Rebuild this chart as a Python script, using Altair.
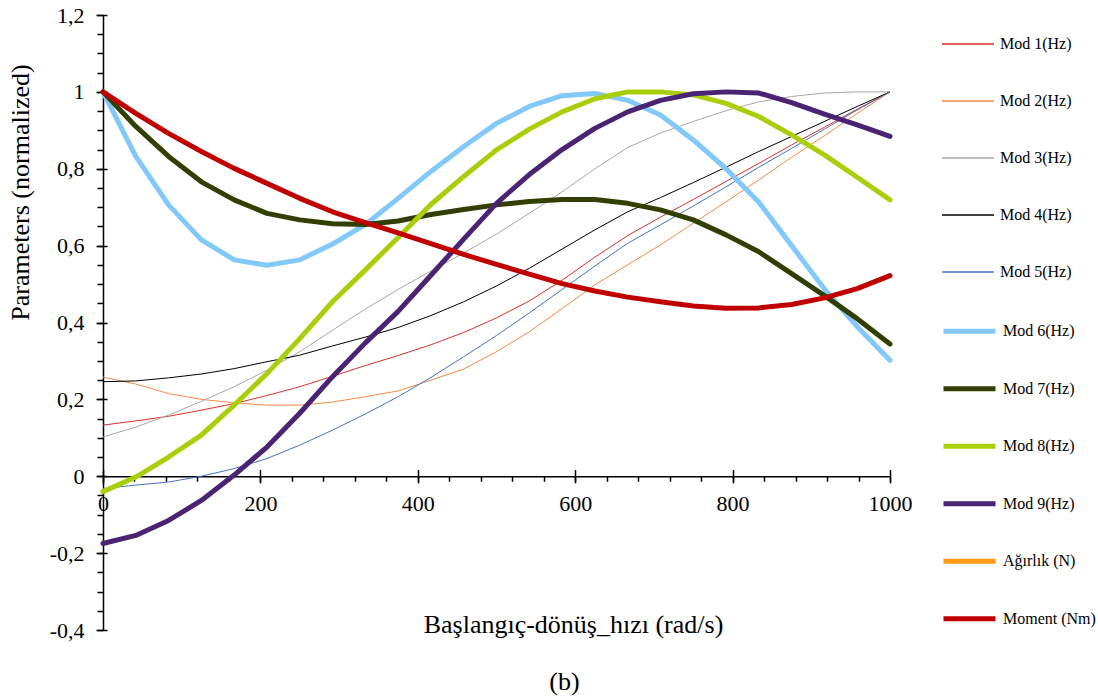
import altair as alt
import pandas as pd

# ---------------- data ----------------
speed = [0, 41.67, 83.33, 125, 166.67, 208.33, 250, 291.67, 333.33, 375, 416.67, 458.33,
         500, 541.67, 583.33, 625, 666.67, 708.33, 750, 791.67, 833.33, 875, 916.67, 958.33, 1000]

mod1 = [0.133, 0.144, 0.156, 0.172, 0.189, 0.210, 0.233, 0.260, 0.288, 0.314, 0.342, 0.374,
        0.412, 0.456, 0.510, 0.570, 0.626, 0.674, 0.720, 0.767, 0.814, 0.862, 0.908, 0.955, 1.0]
mod2 = [0.258, 0.240, 0.215, 0.200, 0.191, 0.185, 0.185, 0.193, 0.207, 0.222, 0.250, 0.279,
        0.324, 0.376, 0.436, 0.498, 0.550, 0.602, 0.658, 0.714, 0.771, 0.830, 0.886, 0.944, 1.0]
mod3 = [0.102, 0.128, 0.159, 0.195, 0.233, 0.276, 0.324, 0.380, 0.435, 0.486, 0.534, 0.581,
        0.630, 0.684, 0.740, 0.800, 0.855, 0.893, 0.923, 0.951, 0.974, 0.988, 0.997, 1.0, 1.0]
mod4 = [0.246, 0.248, 0.256, 0.266, 0.280, 0.298, 0.315, 0.339, 0.362, 0.387, 0.418, 0.454,
        0.495, 0.541, 0.591, 0.641, 0.688, 0.725, 0.764, 0.804, 0.845, 0.884, 0.923, 0.962, 1.0]
mod5 = [-0.032, -0.023, -0.015, 0.0, 0.020, 0.046, 0.081, 0.120, 0.162, 0.207, 0.257, 0.311,
        0.366, 0.425, 0.486, 0.547, 0.606, 0.654, 0.703, 0.753, 0.804, 0.853, 0.903, 0.953, 1.0]
mod6 = [1.0, 0.832, 0.706, 0.615, 0.563, 0.549, 0.563, 0.604, 0.655, 0.723, 0.793, 0.858,
        0.918, 0.962, 0.990, 0.996, 0.978, 0.940, 0.875, 0.800, 0.713, 0.600, 0.487, 0.389, 0.302]
mod7 = [1.0, 0.910, 0.832, 0.766, 0.719, 0.684, 0.667, 0.657, 0.655, 0.664, 0.681, 0.694,
        0.706, 0.715, 0.720, 0.720, 0.710, 0.693, 0.667, 0.628, 0.584, 0.527, 0.470, 0.410, 0.344]
mod8 = [-0.040, -0.002, 0.050, 0.107, 0.185, 0.267, 0.358, 0.454, 0.537, 0.621, 0.707, 0.780,
        0.849, 0.903, 0.948, 0.982, 1.0, 1.0, 0.992, 0.970, 0.936, 0.888, 0.836, 0.778, 0.719]
mod9 = [-0.175, -0.154, -0.115, -0.063, 0.003, 0.076, 0.164, 0.259, 0.347, 0.429, 0.523, 0.617,
        0.710, 0.785, 0.850, 0.905, 0.948, 0.978, 0.995, 1.0, 0.997, 0.972, 0.942, 0.914, 0.884]
moment = [1.0, 0.944, 0.892, 0.845, 0.801, 0.762, 0.723, 0.688, 0.660, 0.633, 0.605, 0.577,
          0.551, 0.526, 0.501, 0.482, 0.466, 0.454, 0.443, 0.437, 0.438, 0.447, 0.464, 0.488, 0.522]

thin_names = ["Mod 1(Hz)", "Mod 2(Hz)", "Mod 3(Hz)", "Mod 4(Hz)", "Mod 5(Hz)"]
thin_values = [mod1, mod2, mod3, mod4, mod5]
thin_colors = ["#D8322B", "#F58A45", "#A8A8A8", "#000000", "#4472C4"]

thick_names = ["Mod 6(Hz)", "Mod 7(Hz)", "Mod 8(Hz)", "Mod 9(Hz)", "Ağırlık (N)", "Moment (Nm)"]
thick_values = [mod6, mod7, mod8, mod9, None, moment]
thick_colors = ["#82C8FA", "#323F02", "#A9CF0A", "#4A2372", "#FF9916", "#C00000"]

x_minor_ticks = [0, 40, 80, 120, 160, 200, 240, 280, 320, 360, 400, 440, 480, 520, 560, 600,
                 640, 680, 720, 760, 800, 840, 880, 920, 960, 1000]
x_major_ticks = [0, 200, 400, 600, 800, 1000]
y_minor_ticks = [-0.4, -0.35, -0.3, -0.25, -0.2, -0.15, -0.1, -0.05, 0, 0.05, 0.1, 0.15, 0.2,
                 0.25, 0.3, 0.35, 0.4, 0.45, 0.5, 0.55, 0.6, 0.65, 0.7, 0.75, 0.8, 0.85, 0.9,
                 0.95, 1.0, 1.05, 1.1, 1.15, 1.2]
y_major_ticks = [-0.4, -0.2, 0, 0.2, 0.4, 0.6, 0.8, 1.0, 1.2]


def table(names, values):
    rows = []
    for name, vals in zip(names, values):
        if vals is None:
            continue
        for x, v in zip(speed, vals):
            rows.append({"speed": x, "value": v, "series": name})
    return pd.DataFrame(rows)


df_thin = table(thin_names, thin_values)
df_thick = table(thick_names, thick_values)

FONT = "Liberation Serif"
W, H = 787, 615
Y0_OFFSET = -H * 0.4 / 1.6  # y=0 sits this far above the bottom of the plot

x_scale = alt.Scale(domain=[0, 1000], nice=False, zero=False)
y_scale = alt.Scale(domain=[-0.4, 1.2], nice=False, zero=False)


def make_legend(y, width, pad):
    return alt.Legend(
        orient="none", legendX=838, legendY=y, direction="vertical",
        symbolType="stroke", symbolSize=2704, symbolStrokeWidth=width,
        labelFont=FONT, labelFontSize=16, labelColor="black", labelOffset=5,
        rowPadding=pad, padding=0, title=None, labelLimit=200,
    )


thin = alt.Chart(df_thin).mark_line(strokeWidth=1, strokeJoin="round").encode(
    x=alt.X("speed:Q", scale=x_scale, axis=alt.Axis(
        orient="bottom", values=x_minor_ticks, offset=Y0_OFFSET, tickSize=5, tickWidth=1.5,
        tickColor="black", domainColor="black", domainWidth=1.5, grid=False,
        labelExpr="datum.value % 200 == 0 ? toString(datum.value) : ''",
        labelFont=FONT, labelFontSize=22, labelColor="black", labelPadding=12,
        labelFlush=False, labelOverlap=False, labelBound=False,
        title="Başlangıç-dönüş_hızı (rad/s)", titleFont=FONT, titleFontSize=26,
        titleFontWeight="normal", titleColor="black", titleX=470, titleY=156,
        titleAlign="center", titleBaseline="alphabetic")),
    y=alt.Y("value:Q", scale=y_scale, axis=alt.Axis(
        orient="left", values=y_minor_ticks, tickSize=6, tickWidth=1.5, tickColor="black",
        domainColor="black", domainWidth=1.5, grid=False,
        labelExpr="abs(datum.value*5 - round(datum.value*5)) < 0.001 ? replace(toString(round(datum.value*10)/10), '.', ',') : ''",
        labelFont=FONT, labelFontSize=22, labelColor="black", labelPadding=13,
        labelOverlap=False, labelFlush=False, labelBound=False,
        title="Parameters (normalized)", titleFont=FONT, titleFontSize=26,
        titleFontWeight="normal", titleColor="black", titleX=-83, titleY=177,
        titleAngle=270, titleAlign="center", titleBaseline="middle")),
    color=alt.Color("series:N", scale=alt.Scale(domain=thin_names, range=thin_colors),
                    legend=make_legend(2, 1.5, 22)),
    order=alt.Order("speed:Q"),
)

thick = alt.Chart(df_thick).mark_line(strokeWidth=5, strokeCap="round", strokeJoin="round").encode(
    x=alt.X("speed:Q", scale=x_scale, axis=None),
    y=alt.Y("value:Q", scale=y_scale, axis=None),
    color=alt.Color("series:N", scale=alt.Scale(domain=thick_names, range=thick_colors),
                    legend=make_legend(287.7, 5, 18.5)),
    order=alt.Order("speed:Q"),
)

major_ticks = alt.Chart(df_thin).mark_point(opacity=0).encode(
    x=alt.X("speed:Q", scale=x_scale, axis=alt.Axis(
        orient="bottom", values=x_major_ticks, offset=Y0_OFFSET - 6.7, tickSize=13.4,
        tickWidth=1.5, tickColor="black", domain=False, labels=False, grid=False,
        title="(b)", titleFont=FONT, titleFontSize=26, titleFontWeight="normal",
        titleColor="black", titleX=461, titleY=219.5, titleAlign="center",
        titleBaseline="alphabetic")),
    y=alt.Y("value:Q", scale=y_scale, axis=alt.Axis(
        orient="left", values=y_major_ticks, offset=-4, tickSize=11, tickWidth=1.5,
        tickColor="black", domain=False, labels=False, grid=False, title=None)),
)

chart = alt.layer(thin, thick, major_ticks).resolve_axis(
    x="independent", y="independent"
).resolve_scale(color="independent").properties(
    width=W, height=H,
    autosize=alt.AutoSizeParams(type="none"),
    padding={"left": 103, "top": 15, "right": 1098 - 103 - W, "bottom": 700 - 15 - H},
    background="white",
).configure_view(strokeWidth=0)

chart.save("out.html", embed_options={"renderer": "svg", "actions": False})
